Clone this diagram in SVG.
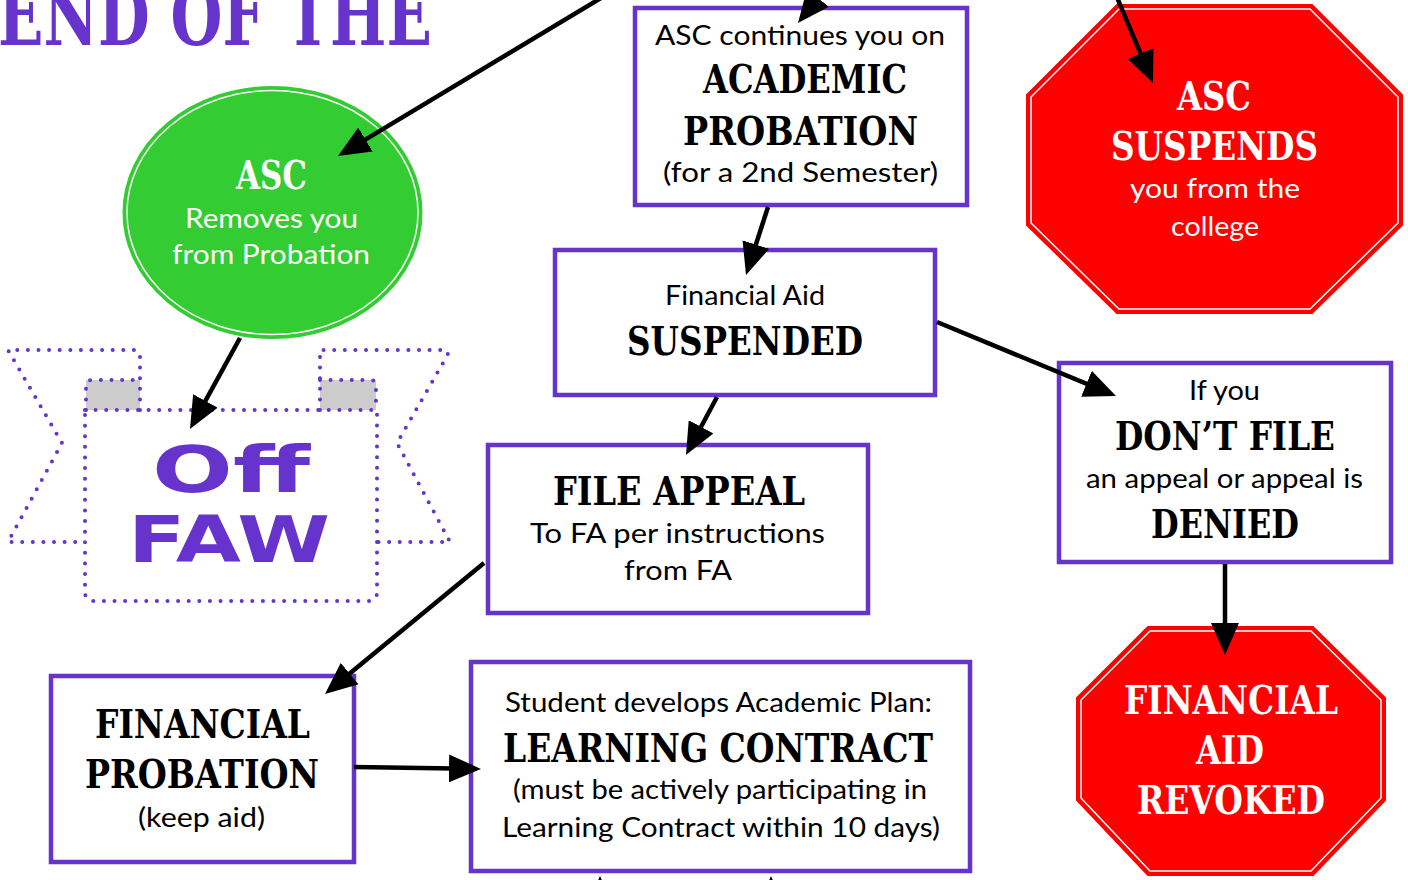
<svg xmlns="http://www.w3.org/2000/svg" width="1408" height="880" viewBox="0 0 1408 880">
<defs>
<style>
.st{font-family:"DejaVu Serif","Liberation Serif",serif;font-weight:bold;font-size:39px}
.tx{font-family:Lato,"Open Sans",sans-serif;font-size:27px}
.box{fill:#fff;stroke:#6633CC;stroke-width:4.5}
.w{fill:#fff}
.dot{fill:none;stroke:#6633CC;stroke-width:4;stroke-dasharray:0 10.6;stroke-linecap:round;stroke-linejoin:round}
.con line{stroke:#000;stroke-width:4.5;marker-end:url(#ah)}
</style>
<marker id="ah" markerUnits="userSpaceOnUse" markerWidth="32" markerHeight="28" viewBox="0 0 32 28" refX="22" refY="14" orient="auto">
<path d="M0,0 L32,14 L0,28 z" fill="#000"/>
</marker>
</defs>
<rect width="1408" height="880" fill="#fff"/>

<g id="title">
<text class="st" x="-2" y="45" style="font-size:82px" textLength="434" lengthAdjust="spacingAndGlyphs" fill="#6633CC">END OF THE</text>
</g>

<g id="asc-removes">
<ellipse cx="272.5" cy="212.5" rx="149" ry="125.5" fill="#33CC33" stroke="#33CC33" stroke-width="2"/>
<ellipse cx="272.5" cy="212.5" rx="145.5" ry="122" fill="none" stroke="#fff" stroke-width="1.5"/>
<text class="st w" x="236" y="189" textLength="71" lengthAdjust="spacingAndGlyphs">ASC</text>
<text class="tx w" x="185" y="228" textLength="173" lengthAdjust="spacingAndGlyphs">Removes you</text>
<text class="tx w" x="172" y="264" textLength="198" lengthAdjust="spacingAndGlyphs">from Probation</text>
</g>

<g id="off-faw">
<rect x="86" y="380" width="54" height="30" fill="#cccccc"/>
<rect x="320" y="380" width="56" height="30" fill="#cccccc"/>
<path class="dot" d="M140,410 L140,356 Q140,350 134,350 L8,350 L62,443 L8,542 L85,542"/>
<path class="dot" d="M86,410 L86,386 Q86,380 92,380 L140,380"/>
<path class="dot" d="M320,410 L320,350 L444,350 Q450,350 447,356 L397,443 L450,542 L377,542"/>
<path class="dot" d="M320,380 L370,380 Q376,380 376,386 L376,410"/>
<path class="dot" d="M85,410 L377,410 L377,592 Q377,601 368,601 L94,601 Q85,601 85,592 Z"/>
<text x="152" y="492" font-family="'DejaVu Sans',sans-serif" font-weight="bold" font-size="64" fill="#6633CC" textLength="158" lengthAdjust="spacingAndGlyphs">Off</text>
<text x="128" y="562" font-family="'DejaVu Sans',sans-serif" font-weight="bold" font-size="64" fill="#6633CC" textLength="202" lengthAdjust="spacingAndGlyphs">FAW</text>
</g>

<g id="academic-probation">
<rect class="box" x="635" y="8" width="332" height="197"/>
<text class="tx" x="655" y="45" textLength="290" lengthAdjust="spacingAndGlyphs">ASC continues you on</text>
<text class="st" x="703" y="93" textLength="204" lengthAdjust="spacingAndGlyphs">ACADEMIC</text>
<text class="st" x="683" y="145" textLength="235" lengthAdjust="spacingAndGlyphs">PROBATION</text>
<text class="tx" x="663" y="182" textLength="275" lengthAdjust="spacingAndGlyphs">(for a  2nd Semester)</text>
</g>

<g id="asc-suspends">
<polygon points="1117,5 1312,5 1402,95 1402,225 1312,313 1117,313 1027,225 1027,95" fill="#FF0000" stroke="#FF0000" stroke-width="2"/>
<polygon points="1119,9 1310,9 1398,97 1398,223 1310,309 1119,309 1031,223 1031,97" fill="none" stroke="#fff" stroke-width="1.5"/>
<text class="st w" x="1177" y="110" textLength="74" lengthAdjust="spacingAndGlyphs">ASC</text>
<text class="st w" x="1111" y="160" textLength="207" lengthAdjust="spacingAndGlyphs">SUSPENDS</text>
<text class="tx w" x="1130" y="198" textLength="170" lengthAdjust="spacingAndGlyphs">you from the</text>
<text class="tx w" x="1171" y="236" textLength="88" lengthAdjust="spacingAndGlyphs">college</text>
</g>

<g id="fa-suspended">
<rect class="box" x="555" y="250" width="380" height="145"/>
<text class="tx" x="665" y="305" textLength="160" lengthAdjust="spacingAndGlyphs">Financial Aid</text>
<text class="st" x="627" y="355" textLength="236" lengthAdjust="spacingAndGlyphs">SUSPENDED</text>
</g>

<g id="file-appeal">
<rect class="box" x="488" y="445" width="380" height="168"/>
<text class="st" x="553" y="505" textLength="252" lengthAdjust="spacingAndGlyphs">FILE APPEAL</text>
<text class="tx" x="530" y="543" textLength="295" lengthAdjust="spacingAndGlyphs">To FA per instructions</text>
<text class="tx" x="624" y="580" textLength="108" lengthAdjust="spacingAndGlyphs">from FA</text>
</g>

<g id="dont-file">
<rect class="box" x="1059" y="363" width="332" height="199"/>
<text class="tx" x="1189" y="400" textLength="71" lengthAdjust="spacingAndGlyphs">If you</text>
<text class="st" x="1115" y="450" textLength="220" lengthAdjust="spacingAndGlyphs">DON’T FILE</text>
<text class="tx" x="1086" y="488" textLength="277" lengthAdjust="spacingAndGlyphs">an appeal or appeal is</text>
<text class="st" x="1151" y="538" textLength="148" lengthAdjust="spacingAndGlyphs">DENIED</text>
</g>

<g id="fa-revoked">
<polygon points="1148,627 1313,627 1385,698 1385,800 1313,875 1148,875 1077,800 1077,698" fill="#FF0000" stroke="#FF0000" stroke-width="2"/>
<polygon points="1150,631 1311,631 1381,700 1381,798 1311,871 1150,871 1081,798 1081,700" fill="none" stroke="#fff" stroke-width="1.5"/>
<text class="st w" x="1124" y="714" textLength="214" lengthAdjust="spacingAndGlyphs">FINANCIAL</text>
<text class="st w" x="1196" y="764" textLength="68" lengthAdjust="spacingAndGlyphs">AID</text>
<text class="st w" x="1137" y="814" textLength="188" lengthAdjust="spacingAndGlyphs">REVOKED</text>
</g>

<g id="financial-probation">
<rect class="box" x="51" y="676" width="303" height="186"/>
<text class="st" x="95" y="738" textLength="215" lengthAdjust="spacingAndGlyphs">FINANCIAL</text>
<text class="st" x="85" y="788" textLength="234" lengthAdjust="spacingAndGlyphs">PROBATION</text>
<text class="tx" x="138" y="827" textLength="127" lengthAdjust="spacingAndGlyphs">(keep aid)</text>
</g>

<g id="learning-contract">
<rect class="box" x="471" y="662" width="499" height="209"/>
<text class="tx" x="505" y="712" textLength="427" lengthAdjust="spacingAndGlyphs">Student develops Academic Plan:</text>
<text class="st" x="503" y="762" textLength="430" lengthAdjust="spacingAndGlyphs">LEARNING CONTRACT</text>
<text class="tx" x="513" y="799" textLength="414" lengthAdjust="spacingAndGlyphs">(must be actively participating in</text>
<text class="tx" x="502" y="837" textLength="438" lengthAdjust="spacingAndGlyphs">Learning Contract within 10 days)</text>
</g>

<g id="connectors" class="con">
<line x1="606" y1="-5" x2="346.6" y2="150.9"/>
<line x1="840" y1="-30" x2="804.2" y2="15.2"/>
<line x1="768" y1="207" x2="749.1" y2="265.5"/>
<line x1="240" y1="338" x2="194.8" y2="420.2"/>
<line x1="717" y1="397" x2="690.7" y2="446.2"/>
<line x1="937" y1="322" x2="1106.8" y2="392.2"/>
<line x1="1225" y1="564" x2="1225" y2="645"/>
<line x1="1116" y1="-5" x2="1149.1" y2="73.8"/>
<line x1="484" y1="563" x2="332.7" y2="687.6"/>
<line x1="354" y1="767" x2="471" y2="768.8"/>
<line x1="600" y1="920" x2="600" y2="886"/>
<line x1="771" y1="920" x2="771" y2="886"/>
</g>
</svg>
